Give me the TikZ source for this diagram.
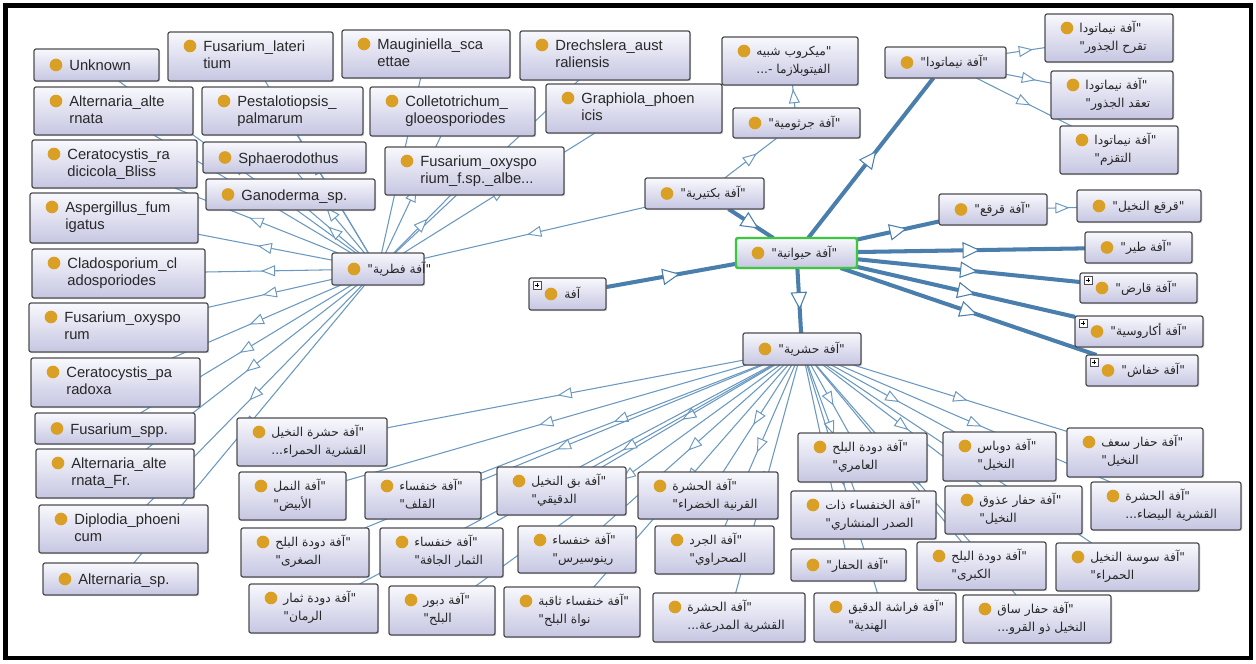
\documentclass[tikz,border=0pt]{standalone}
\usepackage{fontspec}
\setmainfont{Liberation Sans}
\newfontfamily\arabicfont[Script=Arabic]{DejaVu Sans}
\TeXXeTstate=1
\usetikzlibrary{arrows.meta,decorations.markings,fit,calc,shadows}
\pgfdeclarelayer{back}
\pgfdeclarelayer{edges}
\pgfsetlayers{back,edges,main}

\definecolor{thickc}{RGB}{74,126,172}
\definecolor{thinc}{RGB}{105,152,192}
\definecolor{boxtop}{RGB}{248,248,253}
\definecolor{boxbot}{RGB}{198,198,226}
\definecolor{boxline}{RGB}{78,78,82}
\definecolor{dotc}{RGB}{218,160,38}
\definecolor{txtc}{RGB}{40,40,40}
\definecolor{selc}{RGB}{60,200,60}

\tikzset{
 pbox/.style={rectangle, draw=boxline, line width=0.7pt, rounded corners=1.2pt,
   top color=boxtop, bottom color=boxbot, inner sep=0pt, outer sep=0pt,
   drop shadow={shadow xshift=0.7pt, shadow yshift=-0.7pt, opacity=0.3}},
 pdot/.style={circle, fill=dotc, minimum size=7.2pt, inner sep=0pt},
 ltxt/.style={inner sep=0pt, text=txtc, align=left, font=\fontsize{8.4}{9.64}\selectfont},
 atxt/.style={inner sep=0pt, text=txtc, align=left, font=\arabicfont\fontsize{7}{10.2}\selectfont},
 plusbox/.style={draw=boxline, fill=white, minimum size=4.4pt, inner sep=0pt, line width=0.4pt},
 thinedge/.style={draw=thinc, line width=0.6pt, postaction={decorate, decoration={markings,
   mark=at position 0.5 with {\draw[draw=thinc, fill=white, line width=0.55pt, line join=miter]
     (3.5pt,0) -- (-3.5pt,2.8pt) -- (-3.5pt,-2.8pt) -- cycle;}}}},
 thickedge/.style={draw=thickc, line width=2.3pt, postaction={decorate, decoration={markings,
   mark=at position 0.5 with {\draw[draw=thickc, fill=white, line width=0.6pt, line join=miter]
     (4.5pt,0) -- (-4.5pt,4.3pt) -- (-4.5pt,-4.3pt) -- cycle;}}}},
}

% one-line and two-line nodes (Latin / Arabic); base anchor = last line baseline
\newcommand\lnodeone[6]{%
 \node[pbox, fit={(#2,#3) (#4,#5)}] (#1) {};
 \node[pdot] (#1-d) at ($(#1.west)+(22,0)$) {};
 \node[ltxt, anchor=base west] (#1-t) at ($(#1.west)+(35,5.5)$) {#6};}
\newcommand\lnodetwo[6]{%
 \node[pbox, fit={(#2,#3) (#4,#5)}] (#1) {};
 \node[pdot] (#1-d) at ($(#1.north west)+(22,14)$) {};
 \node[ltxt, anchor=base west] (#1-t) at ($(#1.north west)+(35,36.5)$) {#6};}
\newcommand\anodeone[6]{%
 \node[pbox, fit={(#2,#3) (#4,#5)}] (#1) {};
 \node[pdot] (#1-d) at ($(#1.west)+(22,0)$) {};
 \node[atxt, anchor=base west] (#1-t) at ($(#1.west)+(35,4)$) {#6};}
\newcommand\anodetwo[6]{%
 \node[pbox, fit={(#2,#3) (#4,#5)}] (#1) {};
 \node[pdot] (#1-d) at ($(#1.north west)+(22,14)$) {};
 \node[atxt, anchor=base west] (#1-t) at ($(#1.north west)+(34,36.5)$) {#6};}
\newcommand\plusicon[1]{%
 \node[plusbox] (#1-p) at ($(#1.north west)+(8,7)$) {};
 \draw[line width=0.4pt] ($(#1-p.center)+(-1.4pt,0)$) -- ($(#1-p.center)+(1.4pt,0)$)
   ($(#1-p.center)+(0,-1.4pt)$) -- ($(#1-p.center)+(0,1.4pt)$);}
\newcommand\AR[1]{\beginR #1\endR}

\begin{document}
\begin{tikzpicture}[x=0.02cm,y=-0.02cm]
\useasboundingbox (0,0) rectangle (1256,663);
\begin{pgfonlayer}{back}
\fill[white] (0,0) rectangle (1256,663);
\draw[line width=2.8pt] (5.5,5.5) rectangle (1251,658);
\end{pgfonlayer}

% ---------- fungi ----------
\lnodeone{unk}{34}{49}{159}{81}{Unknown}
\lnodetwo{flat}{168}{32}{333}{81}{Fusarium\_lateri\\tium}
\lnodetwo{maug}{342}{30}{510}{78}{Mauginiella\_sca\\ettae}
\lnodetwo{drec}{520}{31}{690}{80}{Drechslera\_aust\\raliensis}
\lnodetwo{aalt}{34}{87}{193}{135}{Alternaria\_alte\\rnata}
\lnodetwo{pest}{202}{87}{363}{135}{Pestalotiopsis\_\\palmarum}
\lnodetwo{coll}{370}{87}{535}{136}{Colletotrichum\_\\gloeosporiodes}
\lnodetwo{grap}{546}{84}{722}{133}{Graphiola\_phoen\\icis}
\lnodetwo{crad}{32}{140}{197}{188}{Ceratocystis\_ra\\dicicola\_Bliss}
\lnodeone{sphae}{203}{142}{366}{173}{Sphaerodothus}
\lnodetwo{foxf}{385}{147}{564}{195}{Fusarium\_oxyspo\\rium\_f.sp.\_albe...}
\lnodeone{gano}{206}{179}{375}{210}{Ganoderma\_sp.}
\lnodetwo{asp}{30}{193}{198}{243}{Aspergillus\_fum\\igatus}
\lnodetwo{clad}{32}{249}{205}{298}{Cladosporium\_cl\\adosporiodes}
\lnodetwo{foxy}{29}{303}{208}{352}{Fusarium\_oxyspo\\rum}
\lnodetwo{cpar}{31}{358}{200}{407}{Ceratocystis\_pa\\radoxa}
\lnodeone{fspp}{35}{413}{195}{444}{Fusarium\_spp.}
\lnodetwo{aaltfr}{36}{449}{194}{498}{Alternaria\_alte\\rnata\_Fr.}
\lnodetwo{dipl}{39}{505}{208}{553}{Diplodia\_phoeni\\cum}
\lnodeone{altsp}{43}{563}{198}{595}{Alternaria\_sp.}

% ---------- central / right ----------
\anodeone{fung}{332}{253}{424}{285}{\AR{"آفة فطرية"}}
\anodetwo{mic}{722}{37}{858}{85}{\AR{"ميكروب شبيه}\\\AR{الفيتوبلازما -...}}
\anodeone{germ}{733}{108}{860}{138}{\AR{"آفة جرثومية"}}
\anodeone{bact}{645}{178}{764}{209}{\AR{"آفة بكتيرية"}}
\anodeone{root}{529}{278}{606}{310}{\AR{آفة}}
\plusicon{root}
\anodeone{green}{736}{238}{857}{268}{\AR{"آفة حيوانية"}}
\draw[selc, line width=1.4pt, rounded corners=1.2pt] (green.north west) rectangle (green.south east);
\anodeone{ins}{743}{333}{861}{365}{\AR{"آفة حشرية"}}
\anodeone{nema}{885}{47}{1006}{78}{\AR{"آفة نيماتودا"}}
\anodetwo{nA}{1045}{14}{1173}{62}{\AR{"آفة نيماتودا}\\\AR{تقرح الجذور"}}
\anodetwo{nB}{1051}{71}{1173}{119}{\AR{"آفة نيماتودا}\\\AR{تعقد الجذور"}}
\anodetwo{nC}{1060}{126}{1178}{174}{\AR{"آفة نيماتودا}\\\AR{التقزم"}}
\anodeone{qarq}{939}{194}{1047}{225}{\AR{"آفة قرقع"}}
\anodeone{qarqn}{1077}{190}{1201}{222}{\AR{"قرقع النخيل"}}
\anodeone{tair}{1085}{232}{1192}{263}{\AR{"آفة طير"}}
\anodeone{qared}{1080}{273}{1197}{303}{\AR{"آفة قارض"}}
\plusicon{qared}
\anodeone{akar}{1075}{316}{1203}{347}{\AR{"آفة أكاروسية"}}
\plusicon{akar}
\anodeone{khaf}{1086}{355}{1198}{386}{\AR{"آفة خفاش"}}
\plusicon{khaf}

% ---------- insects ----------
\anodetwo{rs}{237}{418}{387}{466}{\AR{"آفة حشرة النخيل}\\\AR{القشرية الحمراء...}}
\anodetwo{term}{239}{472}{346}{520}{\AR{"آفة النمل}\\\AR{الأبيض"}}
\anodetwo{bark}{365}{472}{481}{519}{\AR{"آفة خنفساء}\\\AR{القلف"}}
\anodetwo{mealy}{497}{467}{626}{515}{\AR{"آفة بق النخيل}\\\AR{الدقيقي"}}
\anodetwo{lesser}{241}{528}{369}{577}{\AR{"آفة دودة البلح}\\\AR{الصغرى"}}
\anodetwo{dryfr}{380}{528}{503}{577}{\AR{"آفة خنفساء}\\\AR{الثمار الجافة"}}
\anodetwo{rhino}{518}{526}{636}{573}{\AR{"آفة خنفساء}\\\AR{رينوسيرس"}}
\anodetwo{pomeg}{249}{584}{378}{633}{\AR{"آفة دودة ثمار}\\\AR{الرمان"}}
\anodetwo{wasp}{389}{586}{495}{635}{\AR{"آفة دبور}\\\AR{البلح"}}
\anodetwo{seedb}{504}{587}{640}{637}{\AR{"آفة خنفساء ثاقبة}\\\AR{نواة البلح"}}
\anodetwo{greenb}{638}{472}{778}{519}{\AR{"آفة الحشرة}\\\AR{القرنية الخضراء"}}
\anodetwo{locust}{655}{526}{774}{574}{\AR{"آفة الجرد}\\\AR{الصحراوي"}}
\anodetwo{armor}{653}{593}{805}{642}{\AR{"آفة الحشرة}\\\AR{القشرية المدرعة...}}
\anodetwo{amiri}{798}{433}{927}{482}{\AR{"آفة دودة البلح}\\\AR{العامري"}}
\anodetwo{sawt}{791}{491}{936}{539}{\AR{"آفة الخنفساء ذات}\\\AR{الصدر المنشاري"}}
\anodeone{borer}{791}{549}{906}{581}{\AR{"آفة الحفار"}}
\anodetwo{moth}{814}{593}{956}{642}{\AR{"آفة فراشة الدقيق}\\\AR{الهندية"}}
\anodetwo{dubas}{943}{432}{1056}{481}{\AR{"آفة دوباس}\\\AR{النخيل"}}
\anodetwo{bunch}{945}{486}{1082}{534}{\AR{"آفة حفار عذوق}\\\AR{النخيل"}}
\anodetwo{greater}{917}{542}{1046}{590}{\AR{"آفة دودة البلح}\\\AR{الكبرى"}}
\anodetwo{stem}{963}{595}{1111}{643}{\AR{"آفة حفار ساق}\\\AR{النخيل ذو القرو...}}
\anodetwo{frond}{1067}{428}{1203}{477}{\AR{"آفة حفار سعف}\\\AR{النخيل"}}
\anodetwo{white}{1091}{482}{1241}{530}{\AR{"آفة الحشرة}\\\AR{القشرية البيضاء...}}
\anodetwo{rpw}{1056}{543}{1199}{591}{\AR{"آفة سوسة النخيل}\\\AR{الحمراء"}}

% ---------- edges ----------
\begin{pgfonlayer}{edges}
\foreach \t in {unk,flat,maug,drec,aalt,pest,coll,grap,crad,sphae,foxf,gano,asp,clad,foxy,cpar,fspp,aaltfr,dipl,altsp}
  \draw[thinedge] (fung) -- (\t);
\foreach \t in {rs,term,bark,mealy,lesser,dryfr,rhino,pomeg,wasp,seedb,greenb,locust,armor,amiri,sawt,borer,moth,dubas,bunch,greater,stem,frond,white,rpw}
  \draw[thinedge] (ins) -- (\t);
\draw[thinedge] (bact) -- (fung);
\draw[thinedge] (bact) -- (germ);
\draw[thinedge] (germ) -- (mic);
\foreach \t in {nA,nB,nC} \draw[thinedge] (nema) -- (\t);
\draw[thinedge] (qarq) -- (qarqn);
\draw[thickedge] (root) -- (green);
\draw[thickedge] (bact) -- (green);
\foreach \t in {nema,qarq,tair,qared,akar,khaf,ins} \draw[thickedge] (green) -- (\t);
\end{pgfonlayer}
\end{tikzpicture}
\end{document}
